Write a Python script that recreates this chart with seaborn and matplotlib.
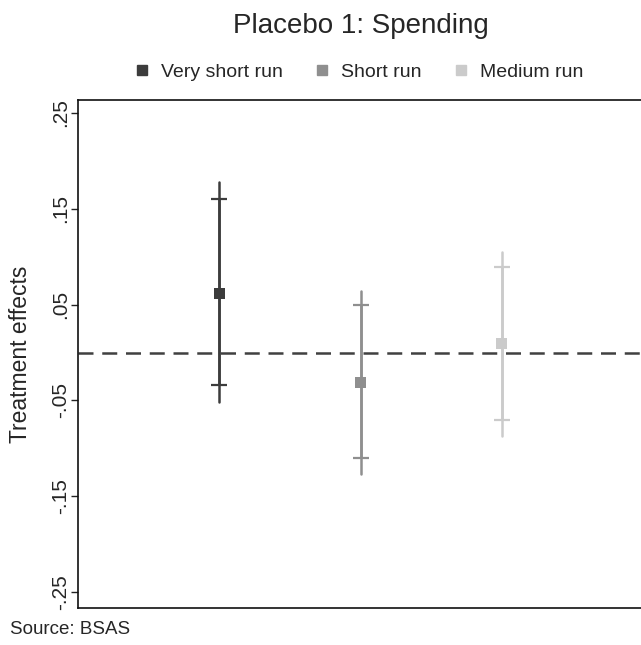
import matplotlib
matplotlib.use("Agg")
import matplotlib.pyplot as plt
import seaborn as sns
import pandas as pd

# Point estimates with 90% and 95% confidence bounds
horizons = ["Very short run", "Short run", "Medium run"]
estimates = [0.062, -0.031, 0.009]
ci95_low = [-0.052, -0.127, -0.087]
ci95_high = [0.178, 0.064, 0.105]
ci90_low = [-0.034, -0.110, -0.070]
ci90_high = [0.160, 0.050, 0.089]
colors = ["#3c3c3c", "#8f8f8f", "#cbcbcb"]
ytick_values = [0.25, 0.15, 0.05, -0.05, -0.15, -0.25]
ytick_labels = [".25", ".15", ".05", "-.05", "-.15", "-.25"]

df = pd.DataFrame({
    "horizon": horizons,
    "pos": [1, 2, 3],
    "estimate": estimates,
    "lo95": ci95_low, "hi95": ci95_high,
    "lo90": ci90_low, "hi90": ci90_high,
})

sns.set_style("white")
plt.rcParams["font.family"] = ["Liberation Sans", "DejaVu Sans"]

fig = plt.figure(figsize=(6.41, 6.45), dpi=100)
W, H = 641, 645
ax = fig.add_axes([78 / W, (H - 608) / H, (643 - 78) / W, (608 - 100) / H])

ax.axhline(0, color="#404040", lw=1.8, ls=(0, (6, 3.5)), zorder=1)

for i, row in df.iterrows():
    c = colors[i]
    ax.plot([row.pos, row.pos], [row.lo95, row.hi95], color=c, lw=1.8, zorder=2)
    ax.errorbar(row.pos, row.estimate,
                yerr=[[row.estimate - row.lo90], [row.hi90 - row.estimate]],
                fmt="none", ecolor=c, elinewidth=1.8, capsize=6, capthick=1.6,
                zorder=2)

sns.scatterplot(data=df, x="pos", y="estimate", hue="horizon",
                palette=colors, marker="s", s=64, edgecolor="none",
                ax=ax, zorder=3, legend=False)

ax.set_xlim(0, 4)
ax.set_ylim(-0.2665, 0.2635)
ax.set_xticks([])
ax.set_xlabel("")
ax.set_yticks(ytick_values)
ax.set_yticklabels(ytick_labels, rotation=90, va="center", fontsize=15)
ax.tick_params(axis="y", direction="out", length=5, width=1, color="#222222",
               pad=1, left=True)
ax.set_ylabel("Treatment effects", fontsize=16.5)
ax.yaxis.set_label_coords((32 - 78) / 565, 0.5)

for side in ["left", "top", "bottom"]:
    ax.spines[side].set_color("#111111")
    ax.spines[side].set_linewidth(1.2)
ax.spines["right"].set_visible(False)

# Legend across the top
handles = [plt.Line2D([], [], marker="s", color=c, ls="none", markersize=7)
           for c in colors]
fig.legend(handles, horizons, loc="center", bbox_to_anchor=(0.559, 1 - 72 / H),
           ncol=3, frameon=False, fontsize=14, handletextpad=0.5,
           columnspacing=1.6, handlelength=0.9)

fig.text(0.5625, 1 - 26 / H, "Placebo 1: Spending", ha="center", va="center",
         fontsize=20)
fig.text(10 / W, 1 - 630 / H, "Source: BSAS", ha="left", va="center",
         fontsize=13.5)

fig.savefig("out.png", dpi=100)
